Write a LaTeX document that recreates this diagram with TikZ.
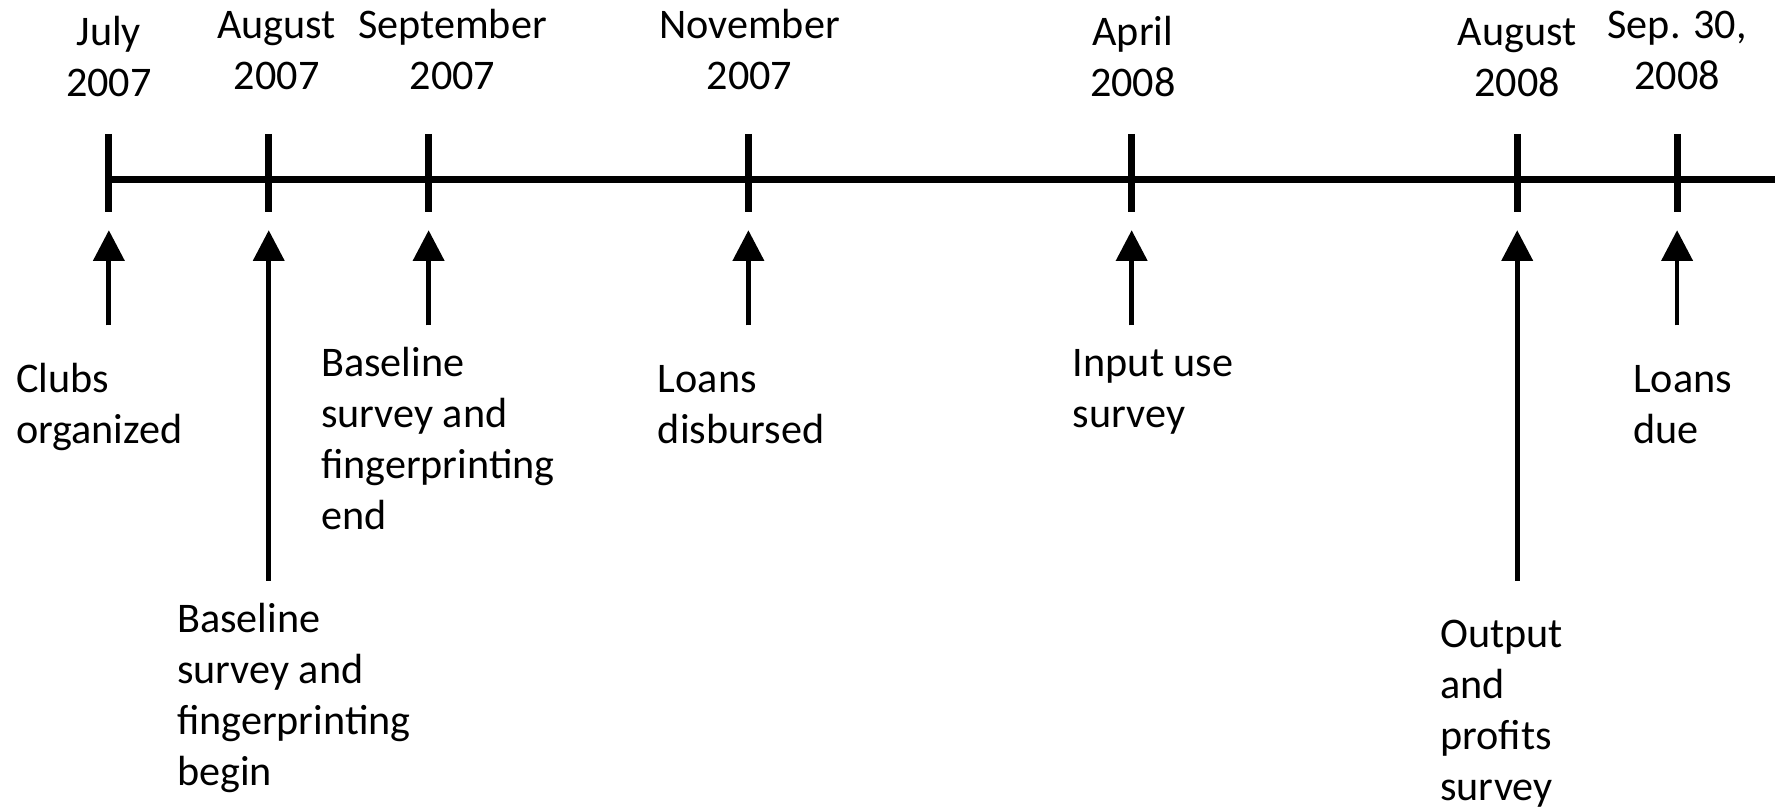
\documentclass[tikz,border=0pt]{standalone}
\usepackage{fontspec}
\setmainfont{Carlito}
\usetikzlibrary{arrows.meta}
\tikzset{
  axisline/.style={line width=6pt},
  tickline/.style={line width=6pt},
  evarrow/.style={line width=4.2pt,-{Triangle[width=27pt,length=27pt]}},
  lbl/.style={inner sep=0pt,align=left,anchor=base west,font=\fontsize{37.2}{45}\selectfont},
  datelbl/.style={inner sep=0pt,align=center,anchor=base,font=\fontsize{37.2}{45}\selectfont}
}
\begin{document}
\begin{tikzpicture}[x=1pt,y=-1pt]
\useasboundingbox (0,0) rectangle (1568,712.6);
% timeline
\coordinate (ls) at (96,158);
\coordinate (le) at (1565,158);
\draw[axisline] (ls) -- (le);
% ticks and arrows
\foreach \n/\x/\yb in {a/96/287, b/237/512, c/378/287, d/660/287, e/998/287, f/1338/512, g/1479/287}{
  \coordinate (t\n top) at (\x,118);
  \coordinate (t\n bot) at (\x,187);
  \draw[tickline] (t\n top) -- (t\n bot);
  \coordinate (ar\n s) at (\x,\yb);
  \coordinate (ar\n e) at (\x,203);
  \draw[evarrow] (ar\n s) -- (ar\n e);
}
% date labels (anchor = baseline of last line)
\node[datelbl] (da) at (96,85) {July\\2007};
\node[datelbl] (db) at (244,79) {August\\2007};
\node[datelbl] (dc) at (399,79) {September\\2007};
\node[datelbl] (dd) at (661,79) {November\\2007};
\node[datelbl] (de) at (999,85) {April\\2008};
\node[datelbl] (df) at (1338,85) {August\\2008};
\node[datelbl] (dg) at (1479,79) {Sep. 30,\\2008};
% event labels (anchor = baseline of last line)
\node[lbl] (ea) at (14,391) {Clubs\\organized};
\node[lbl] (eb) at (156,693) {Baseline\\survey and\\fingerprinting\\begin};
\node[lbl] (ec) at (283,467) {Baseline\\survey and\\fingerprinting\\end};
\node[lbl] (ed) at (580,391) {Loans\\disbursed};
\node[lbl] (ee) at (946,377) {Input use\\survey};
\node[lbl] (ef) at (1270,706) {Output\\and\\profits\\survey};
\node[lbl] (eg) at (1440,391) {Loans\\due};
\end{tikzpicture}
\end{document}
